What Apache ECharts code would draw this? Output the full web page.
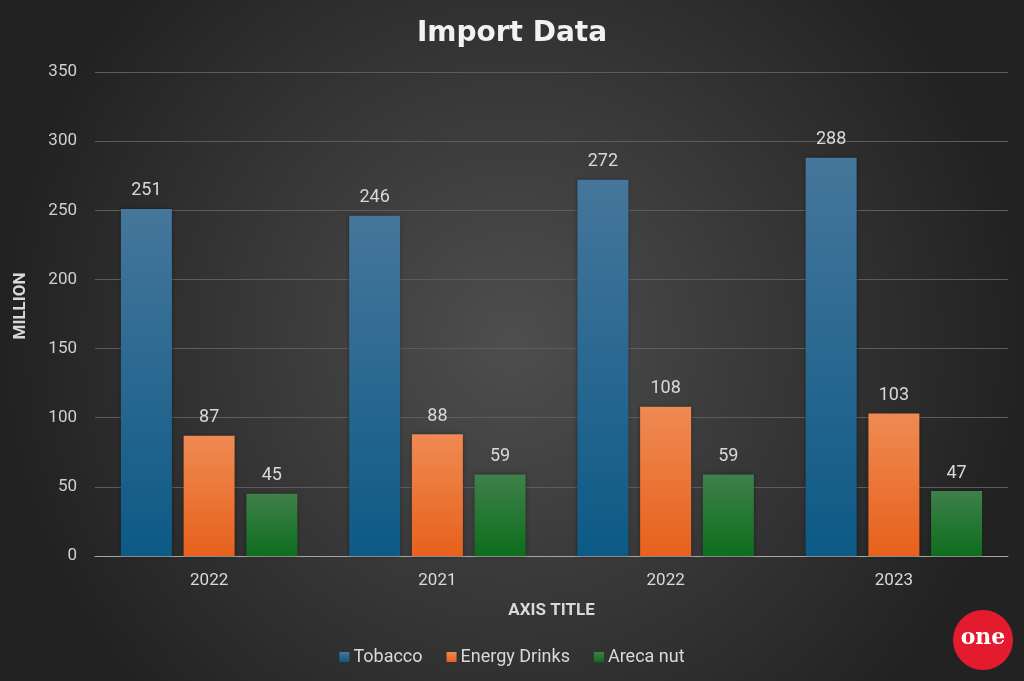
<!DOCTYPE html>
<html>
<head>
<meta charset="utf-8">
<title>Import Data</title>
<script src="https://cdn.jsdelivr.net/npm/echarts@6/dist/echarts.min.js"></script>
<style>
  html, body { margin: 0; padding: 0; background: #333; }
  #chart { width: 1024px; height: 681px; }
</style>
</head>
<body>
<div id="chart"></div>
<script>
var years = ['2022', '2021', '2022', '2023'];
var tobacco = [251, 246, 272, 288];
var energyDrinks = [87, 88, 108, 103];
var arecaNut = [45, 59, 59, 47];
var seriesNames = ['Tobacco', 'Energy Drinks', 'Areca nut'];

function grad(top, bottom) {
    return new echarts.graphic.LinearGradient(0, 0, 0, 1, [
        { offset: 0, color: top },
        { offset: 1, color: bottom }
    ]);
}

var labelStyle = {
    show: true,
    position: 'top',
    distance: 9,
    color: '#d9d9d9',
    fontSize: 18,
    fontFamily: 'Roboto'
};

var chart = echarts.init(document.getElementById('chart'));
var option = {
    backgroundColor: new echarts.graphic.RadialGradient(0.5, 0.5, 0.75, [
        { offset: 0, color: '#4e4e4e' },
        { offset: 1, color: '#222222' }
    ]),
    color: ['#1f6a96', '#ee7433', '#1f7a2c'],
    title: {
        text: 'Import Data',
        left: 'center',
        top: 15,
        textStyle: {
            color: '#f2f2f2',
            fontSize: 28,
            fontWeight: 'bold',
            fontFamily: 'DejaVu Sans'
        }
    },
    legend: {
        top: 643,
        left: 'center',
        itemWidth: 10,
        itemHeight: 10,
        itemGap: 24,
        icon: 'rect',
        textStyle: { color: '#d9d9d9', fontSize: 18, fontFamily: 'Roboto', padding: [0, 0, 0, -1] },
        data: seriesNames
    },
    grid: { left: 95, right: 16, top: 72, bottom: 125 },
    xAxis: {
        type: 'category',
        data: years,
        name: 'AXIS TITLE',
        nameLocation: 'middle',
        nameGap: 46,
        nameTextStyle: { color: '#d9d9d9', fontSize: 17, fontWeight: 'bold', fontFamily: 'Roboto' },
        axisLine: { lineStyle: { color: '#a6a6a6', width: 1 } },
        axisTick: { show: false },
        axisLabel: { color: '#d9d9d9', fontSize: 17, fontFamily: 'Roboto', margin: 16 }
    },
    yAxis: {
        type: 'value',
        min: 0,
        max: 350,
        interval: 50,
        name: 'MILLION',
        nameLocation: 'middle',
        nameRotate: 90,
        nameGap: 66,
        nameTextStyle: { color: '#d9d9d9', fontSize: 17, fontWeight: 'bold', fontFamily: 'Roboto', padding: [0, 0, 0, 16] },
        axisLine: { show: false },
        axisTick: { show: false },
        axisLabel: { color: '#d0d0d0', fontSize: 17, fontFamily: 'Roboto', margin: 18 },
        splitLine: { lineStyle: { color: '#5c5c5c', width: 1 } }
    },
    series: [
        {
            name: seriesNames[0],
            type: 'bar',
            data: tobacco,
            barWidth: 51,
            barGap: '23%',
            label: labelStyle,
            itemStyle: { color: grad('#46769b', '#0c5a86'), shadowBlur: 4, shadowColor: 'rgba(0,0,0,0.4)' }
        },
        {
            name: seriesNames[1],
            type: 'bar',
            data: energyDrinks,
            barWidth: 51,
            barGap: '23%',
            label: labelStyle,
            itemStyle: { color: grad('#ef8a52', '#e7611c'), shadowBlur: 4, shadowColor: 'rgba(0,0,0,0.4)' }
        },
        {
            name: seriesNames[2],
            type: 'bar',
            data: arecaNut,
            barWidth: 51,
            barGap: '23%',
            label: labelStyle,
            itemStyle: { color: grad('#3f804a', '#0d6e1d'), shadowBlur: 4, shadowColor: 'rgba(0,0,0,0.4)' }
        }
    ],
    graphic: [
        {
            type: 'circle',
            shape: { cx: 983, cy: 640, r: 30 },
            style: { fill: '#e31b2f' }
        },
        {
            type: 'text',
            x: 983,
            y: 638,
            style: {
                text: 'one',
                fill: '#ffffff',
                font: 'bold 22px "DejaVu Serif"',
                align: 'center',
                verticalAlign: 'middle'
            }
        }
    ]
};
chart.setOption(option);
</script>
</body>
</html>
